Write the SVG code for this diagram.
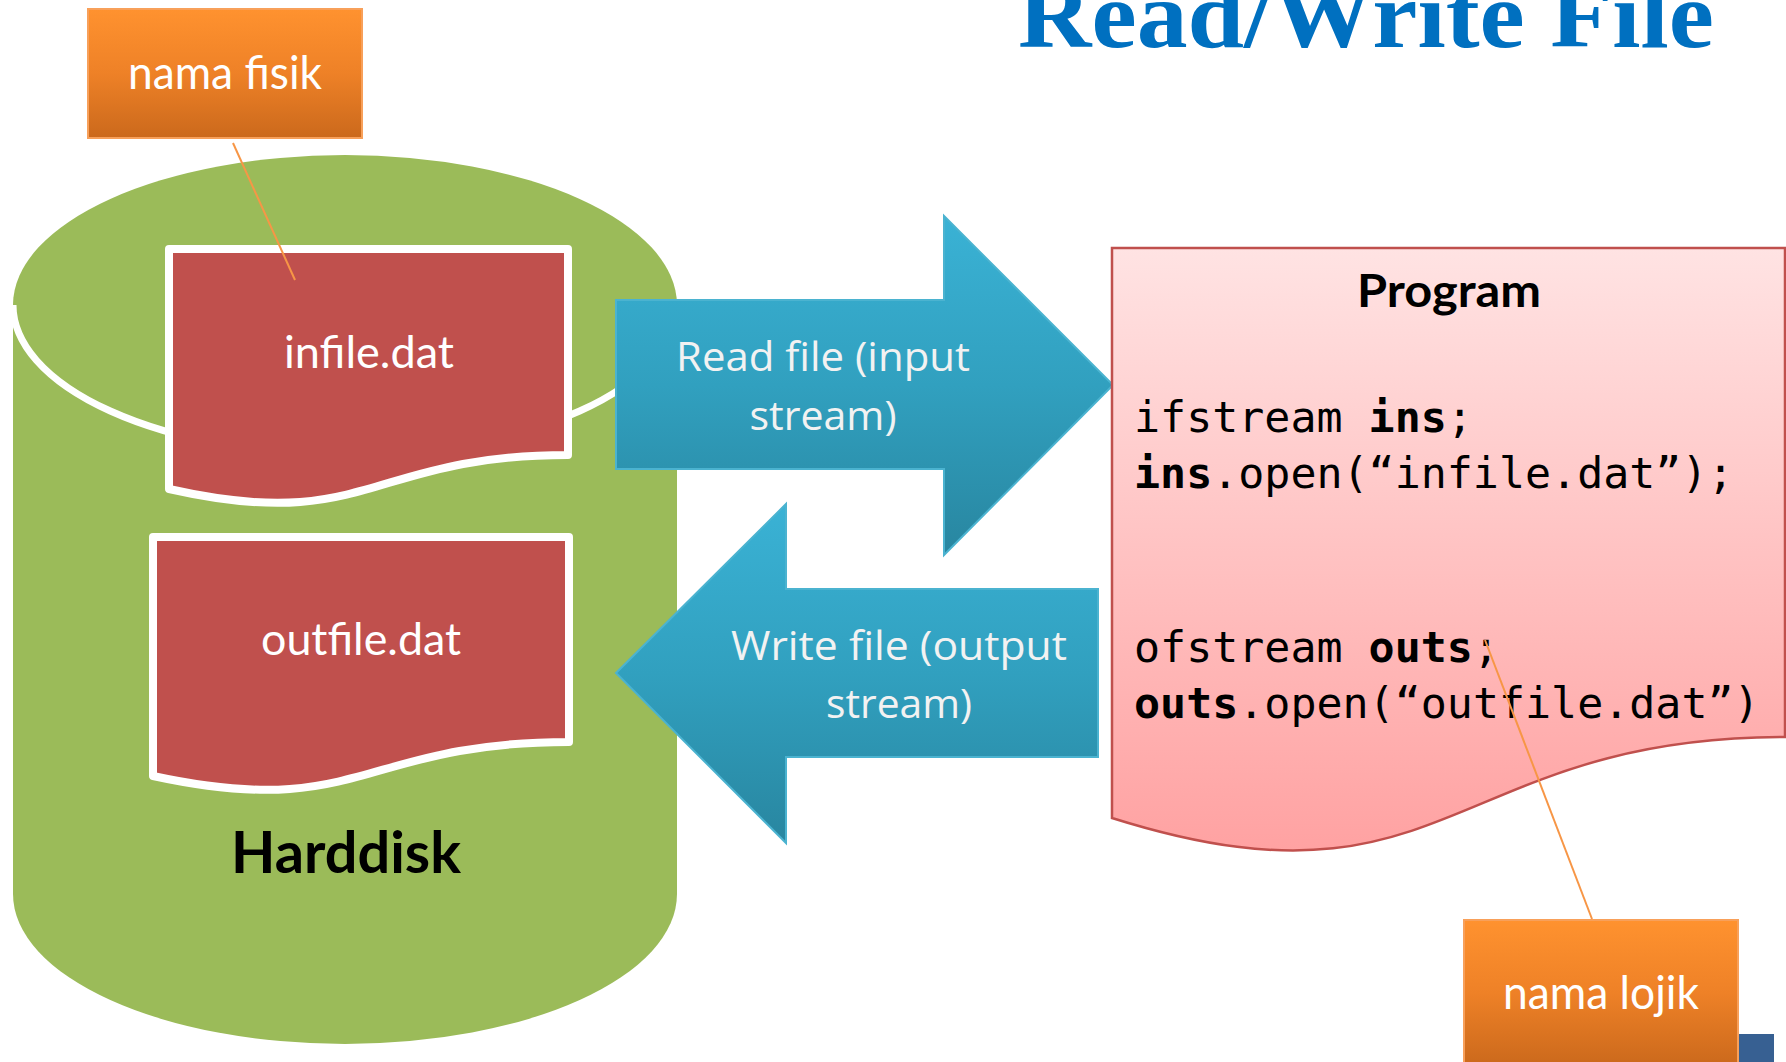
<svg xmlns="http://www.w3.org/2000/svg" width="1786" height="1062" viewBox="0 0 1786 1062">
<defs>
<linearGradient id="gOrange" x1="0" y1="0" x2="0" y2="1">
<stop offset="0" stop-color="#FF922F"/><stop offset="0.5" stop-color="#EE8127"/><stop offset="1" stop-color="#CB691C"/>
</linearGradient>
<linearGradient id="gBlue" x1="0" y1="0" x2="0" y2="1">
<stop offset="0" stop-color="#3AB2D5"/><stop offset="0.5" stop-color="#31A0BF"/><stop offset="1" stop-color="#2886A0"/>
</linearGradient>
<linearGradient id="gPink" x1="0" y1="0" x2="0" y2="1">
<stop offset="0" stop-color="#FFE3E3"/><stop offset="1" stop-color="#FFA2A2"/>
</linearGradient>
<style>
.callout{fill:url(#gOrange);stroke:#F8A05A;stroke-width:2}
.calloutText{font-family:Lato,"Open Sans",sans-serif;font-size:46px;fill:#FFFFFF;text-anchor:middle}
.doc{fill:#C0504D;stroke:#FFFFFF;stroke-width:8;stroke-linejoin:round}
.docText{font-family:Lato,"Open Sans",sans-serif;font-size:45px;fill:#FFFFFF;text-anchor:middle}
.arrow{fill:url(#gBlue);stroke:#4BB3D0;stroke-width:2}
.arrowText{font-family:"Open Sans","Noto Sans",sans-serif;font-size:41px;fill:#F2F2F2;text-anchor:middle}
.code{font-family:"DejaVu Sans Mono","Liberation Mono",monospace;font-size:43.3px;fill:#000000}
.b{font-weight:bold}
.line{stroke:#F79646;stroke-width:2;fill:none}
</style>
</defs>
<rect width="1786" height="1062" fill="#FFFFFF"/>

<g id="title">
<text x="1018" y="47" font-family="'Liberation Serif',serif" font-weight="bold" font-size="96" fill="#0070C0" textLength="696" lengthAdjust="spacingAndGlyphs">Read/Write File</text>
</g>

<g id="harddisk">
<path d="M13,305 A332,150 0 0 1 677,305 L677,894 A332,150 0 0 1 13,894 Z" fill="#9BBB59"/>
<path d="M13,305 A332,150 0 0 0 677,305" fill="none" stroke="#FFFFFF" stroke-width="7"/>
<text x="346" y="873" font-family="Lato,'Open Sans',sans-serif" font-weight="bold" font-size="58" fill="#000000" text-anchor="middle" textLength="230" lengthAdjust="spacingAndGlyphs">Harddisk</text>
</g>

<g id="infile">
<path class="doc" d="M169,249 H568 V455 C368.5,455 368.5,534 169,489 Z"/>
<text class="docText" x="369" y="368" textLength="170" lengthAdjust="spacingAndGlyphs">infile.dat</text>
</g>

<g id="outfile">
<path class="doc" d="M153,537 H569 V742 C361,742 361,821 153,776 Z"/>
<text class="docText" x="361" y="655" textLength="200" lengthAdjust="spacingAndGlyphs">outfile.dat</text>
</g>

<g id="readArrow">
<path class="arrow" d="M616,300 H944 V216 L1113,385 L944,555 V469 H616 Z"/>
<text class="arrowText" x="823" y="371" textLength="294" lengthAdjust="spacingAndGlyphs">Read file (input</text>
<text class="arrowText" x="823" y="430" textLength="147" lengthAdjust="spacingAndGlyphs">stream)</text>
</g>

<g id="writeArrow">
<path class="arrow" d="M616,673 L786,504 V589 H1098 V757 H786 V843 Z"/>
<text class="arrowText" x="899" y="660" textLength="336" lengthAdjust="spacingAndGlyphs">Write file (output</text>
<text class="arrowText" x="899" y="718" textLength="146" lengthAdjust="spacingAndGlyphs">stream)</text>
</g>

<g id="program">
<path d="M1112,248 H1785 V737 C1448.5,737 1448.5,924 1112,818 Z" fill="url(#gPink)" stroke="#C0504D" stroke-width="2.5"/>
<text x="1449" y="307" font-family="Lato,'Open Sans',sans-serif" font-weight="bold" font-size="45" fill="#000000" text-anchor="middle" textLength="184" lengthAdjust="spacingAndGlyphs">Program</text>
<text class="code" x="1134" y="432">ifstream <tspan class="b">ins</tspan>;</text>
<text class="code" x="1134" y="488"><tspan class="b">ins</tspan>.open(“infile.dat”);</text>
<text class="code" x="1134" y="662">ofstream <tspan class="b">outs</tspan>;</text>
<text class="code" x="1134" y="718"><tspan class="b">outs</tspan>.open(“outfile.dat”)</text>
</g>

<g id="namaFisik">
<rect class="callout" x="88" y="9" width="274" height="129"/>
<text class="calloutText" x="225" y="89" textLength="194" lengthAdjust="spacingAndGlyphs">nama fisik</text>
</g>

<g id="cornerMark">
<rect x="1738" y="1034" width="36" height="28" fill="#376092"/>
</g>

<g id="namaLojik">
<rect class="callout" x="1464" y="920" width="274" height="146"/>
<text class="calloutText" x="1601" y="1009" textLength="196" lengthAdjust="spacingAndGlyphs">nama lojik</text>
</g>

<g id="connectors">
<line class="line" x1="233" y1="143" x2="295" y2="280"/>
<line class="line" x1="1485" y1="640" x2="1592" y2="919"/>
</g>
</svg>
